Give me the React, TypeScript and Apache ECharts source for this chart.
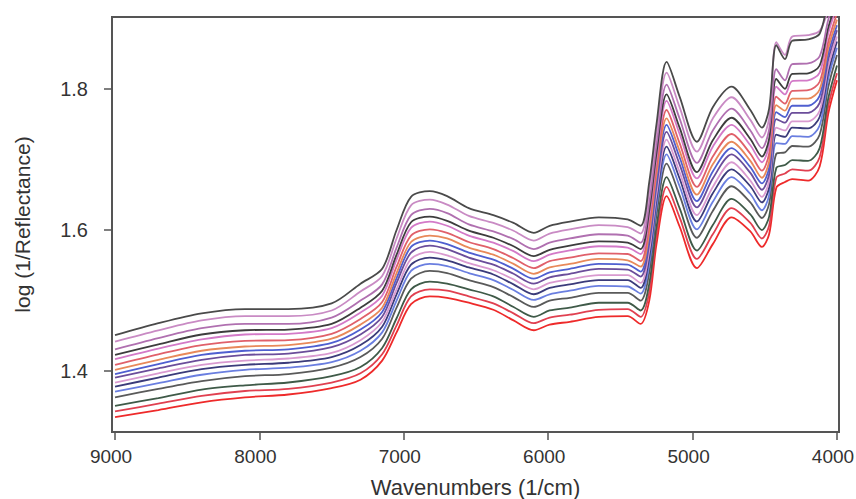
import React, { useEffect, useRef } from "react";
import * as echarts from "echarts";

// Wavenumbers (1/cm) at which each spectrum was read
const wavenumbers = [9000, 8700, 8400, 8100, 7800, 7500, 7300, 7150, 7050, 6950, 6820, 6700, 6550, 6380, 6240, 6100, 5990, 5850, 5650, 5450, 5360, 5300, 5250, 5180, 5090, 4970, 4860, 4730, 4600, 4520, 4470, 4420, 4360, 4310, 4200, 4120, 4060, 4000];

// log(1/Reflectance) spectra, top to bottom
const spec01 = [1.451, 1.468, 1.482, 1.488, 1.488, 1.496, 1.524, 1.545, 1.600, 1.647, 1.655, 1.648, 1.631, 1.621, 1.610, 1.596, 1.606, 1.612, 1.618, 1.615, 1.606, 1.668, 1.750, 1.838, 1.789, 1.725, 1.774, 1.803, 1.770, 1.745, 1.772, 1.862, 1.842, 1.868, 1.870, 1.878, 1.925, 1.960];
const spec02 = [1.442, 1.458, 1.472, 1.478, 1.478, 1.486, 1.513, 1.535, 1.588, 1.635, 1.643, 1.636, 1.620, 1.610, 1.599, 1.585, 1.595, 1.601, 1.607, 1.604, 1.595, 1.655, 1.736, 1.823, 1.774, 1.711, 1.758, 1.788, 1.756, 1.731, 1.758, 1.866, 1.848, 1.874, 1.876, 1.882, 1.912, 1.948];
const spec03 = [1.431, 1.447, 1.461, 1.467, 1.467, 1.476, 1.500, 1.523, 1.575, 1.621, 1.630, 1.624, 1.608, 1.598, 1.587, 1.573, 1.582, 1.588, 1.594, 1.592, 1.582, 1.639, 1.721, 1.806, 1.758, 1.695, 1.741, 1.772, 1.741, 1.716, 1.742, 1.828, 1.812, 1.835, 1.836, 1.846, 1.898, 1.935];
const spec04 = [1.423, 1.438, 1.452, 1.458, 1.459, 1.467, 1.490, 1.514, 1.565, 1.611, 1.619, 1.613, 1.599, 1.589, 1.577, 1.563, 1.572, 1.578, 1.584, 1.582, 1.573, 1.628, 1.709, 1.792, 1.745, 1.682, 1.727, 1.759, 1.729, 1.704, 1.729, 1.814, 1.800, 1.821, 1.822, 1.833, 1.887, 1.924];
const spec05 = [1.417, 1.432, 1.445, 1.452, 1.453, 1.461, 1.483, 1.507, 1.558, 1.603, 1.612, 1.606, 1.592, 1.582, 1.570, 1.556, 1.565, 1.571, 1.577, 1.575, 1.566, 1.619, 1.701, 1.783, 1.736, 1.673, 1.718, 1.749, 1.720, 1.696, 1.720, 1.803, 1.792, 1.811, 1.812, 1.823, 1.879, 1.917];
const spec06 = [1.409, 1.424, 1.437, 1.443, 1.444, 1.453, 1.474, 1.498, 1.548, 1.592, 1.601, 1.596, 1.583, 1.573, 1.560, 1.546, 1.556, 1.561, 1.567, 1.566, 1.556, 1.608, 1.689, 1.770, 1.723, 1.661, 1.704, 1.736, 1.708, 1.684, 1.708, 1.789, 1.779, 1.797, 1.798, 1.810, 1.867, 1.907];
const spec07 = [1.402, 1.416, 1.429, 1.435, 1.437, 1.446, 1.466, 1.490, 1.539, 1.583, 1.592, 1.588, 1.575, 1.565, 1.552, 1.538, 1.547, 1.552, 1.559, 1.557, 1.548, 1.597, 1.679, 1.758, 1.712, 1.650, 1.693, 1.725, 1.698, 1.674, 1.697, 1.777, 1.769, 1.786, 1.786, 1.799, 1.858, 1.898];
const spec08 = [1.396, 1.410, 1.423, 1.429, 1.431, 1.440, 1.459, 1.484, 1.532, 1.576, 1.585, 1.580, 1.568, 1.558, 1.545, 1.531, 1.540, 1.545, 1.552, 1.551, 1.541, 1.589, 1.670, 1.749, 1.703, 1.641, 1.683, 1.716, 1.689, 1.666, 1.688, 1.767, 1.760, 1.776, 1.776, 1.790, 1.850, 1.890];
const spec09 = [1.391, 1.404, 1.416, 1.423, 1.425, 1.434, 1.452, 1.477, 1.525, 1.568, 1.578, 1.573, 1.561, 1.551, 1.538, 1.524, 1.533, 1.538, 1.545, 1.544, 1.534, 1.581, 1.662, 1.739, 1.693, 1.632, 1.673, 1.707, 1.681, 1.657, 1.679, 1.757, 1.752, 1.766, 1.766, 1.780, 1.842, 1.883];
const spec10 = [1.384, 1.397, 1.409, 1.415, 1.418, 1.426, 1.444, 1.470, 1.516, 1.559, 1.569, 1.564, 1.553, 1.543, 1.530, 1.516, 1.525, 1.530, 1.536, 1.536, 1.525, 1.571, 1.651, 1.728, 1.682, 1.621, 1.661, 1.696, 1.670, 1.647, 1.669, 1.745, 1.741, 1.754, 1.754, 1.769, 1.832, 1.874];
const spec11 = [1.378, 1.391, 1.403, 1.409, 1.412, 1.420, 1.437, 1.463, 1.509, 1.551, 1.561, 1.557, 1.547, 1.537, 1.523, 1.509, 1.518, 1.523, 1.529, 1.529, 1.518, 1.562, 1.643, 1.718, 1.673, 1.612, 1.652, 1.686, 1.662, 1.639, 1.660, 1.735, 1.732, 1.745, 1.744, 1.760, 1.824, 1.867];
const spec12 = [1.371, 1.383, 1.395, 1.402, 1.405, 1.413, 1.429, 1.455, 1.500, 1.542, 1.552, 1.549, 1.539, 1.529, 1.515, 1.501, 1.509, 1.514, 1.521, 1.520, 1.510, 1.552, 1.633, 1.707, 1.662, 1.601, 1.640, 1.675, 1.651, 1.628, 1.649, 1.723, 1.722, 1.733, 1.732, 1.748, 1.815, 1.858];
const spec13 = [1.363, 1.375, 1.386, 1.393, 1.396, 1.405, 1.420, 1.446, 1.490, 1.531, 1.542, 1.539, 1.529, 1.519, 1.505, 1.491, 1.500, 1.504, 1.511, 1.511, 1.500, 1.540, 1.621, 1.694, 1.649, 1.589, 1.627, 1.662, 1.639, 1.617, 1.637, 1.708, 1.710, 1.719, 1.718, 1.735, 1.803, 1.848];
const spec14 = [1.351, 1.362, 1.374, 1.380, 1.384, 1.393, 1.406, 1.433, 1.475, 1.516, 1.527, 1.524, 1.516, 1.506, 1.491, 1.477, 1.486, 1.490, 1.497, 1.497, 1.486, 1.524, 1.604, 1.675, 1.631, 1.571, 1.607, 1.644, 1.622, 1.600, 1.619, 1.688, 1.692, 1.699, 1.698, 1.716, 1.787, 1.833];
const spec15 = [1.343, 1.354, 1.365, 1.372, 1.375, 1.384, 1.397, 1.424, 1.465, 1.506, 1.516, 1.514, 1.506, 1.496, 1.482, 1.468, 1.476, 1.480, 1.487, 1.488, 1.477, 1.512, 1.592, 1.661, 1.618, 1.559, 1.594, 1.631, 1.610, 1.588, 1.606, 1.674, 1.680, 1.686, 1.684, 1.703, 1.776, 1.822];
const spec16 = [1.335, 1.345, 1.356, 1.363, 1.367, 1.376, 1.388, 1.415, 1.455, 1.495, 1.506, 1.504, 1.497, 1.487, 1.472, 1.458, 1.466, 1.470, 1.477, 1.478, 1.467, 1.500, 1.580, 1.648, 1.605, 1.546, 1.580, 1.618, 1.598, 1.576, 1.594, 1.660, 1.668, 1.672, 1.670, 1.690, 1.765, 1.812];

const spectra = [spec01, spec02, spec03, spec04, spec05, spec06, spec07, spec08, spec09, spec10, spec11, spec12, spec13, spec14, spec15, spec16];
const spectrumColors = ["#4a4a4a", "#c98bc4", "#b070b0", "#3d3d3d", "#d37ac8", "#e0606a", "#e8895a", "#4f5fd0", "#6b4d9a", "#d99ad0", "#3b3b7a", "#6a7ee0", "#5a5a5a", "#3f5a48", "#e04050", "#ee2a2a"];

const xTicks = [9000, 8000, 7000, 6000, 5000, 4000];
const yTicks = [1.4, 1.6, 1.8];

export default function App() {
  const ref = useRef<HTMLDivElement>(null);
  useEffect(() => {
    if (!ref.current) return;
    const chart = echarts.init(ref.current, null, { renderer: "svg" });
    const axisColor = "#555";
    const labelColor = "#333";
    const font = "'Liberation Sans', Arial, sans-serif";
    chart.setOption({
      animation: false,
      backgroundColor: "#fff",
      grid: {
        left: 112, right: 17, top: 17, bottom: 67,
        containLabel: false,
        outerBoundsMode: "none",
        show: true, borderColor: axisColor, borderWidth: 2, backgroundColor: "transparent",
      },
      xAxis: {
        type: "value",
        inverse: true,
        min: 3986,
        max: 9021,
        name: "Wavenumbers (1/cm)",
        nameLocation: "middle",
        nameGap: 44,
        nameTextStyle: { fontSize: 22, color: labelColor, fontFamily: font },
        axisLine: { show: true, lineStyle: { color: axisColor, width: 2 } },
        axisTick: { show: true, length: 8, inside: false, lineStyle: { color: axisColor, width: 1.5 }, customValues: xTicks },
        axisLabel: { fontSize: 19, color: labelColor, fontFamily: font, margin: 15, padding: [0, 8, 0, 0], hideOverlap: false, customValues: xTicks, formatter: (v: number) => String(v) },
        splitLine: { show: false },
      },
      yAxis: {
        type: "value",
        min: 1.3139,
        max: 1.9017,
        name: "log (1/Reflectance)",
        nameLocation: "middle",
        nameGap: 79,
        nameTextStyle: { fontSize: 21, color: labelColor, fontFamily: font },
        axisLine: { show: true, lineStyle: { color: axisColor, width: 2 } },
        axisTick: { show: true, length: 8, inside: false, lineStyle: { color: axisColor, width: 1.5 }, customValues: yTicks },
        axisLabel: { fontSize: 20, color: labelColor, fontFamily: font, margin: 24, customValues: yTicks, formatter: (v: number) => v.toFixed(1) },
        splitLine: { show: false },
      },
      series: spectra.map((vals, i) => ({
        type: "line",
        name: "spectrum " + (i + 1),
        data: wavenumbers.map((w, j) => [w, vals[j]]),
        showSymbol: false,
        smooth: 0.3,
        clip: true,
        lineStyle: { color: spectrumColors[i], width: 1.8 },
        z: 2 + (spectra.length - i),
      })),
    });
    return () => chart.dispose();
  }, []);
  return <div ref={ref} style={{ width: 856, height: 499, position: "absolute", left: 0, top: 0 }} />;
}
